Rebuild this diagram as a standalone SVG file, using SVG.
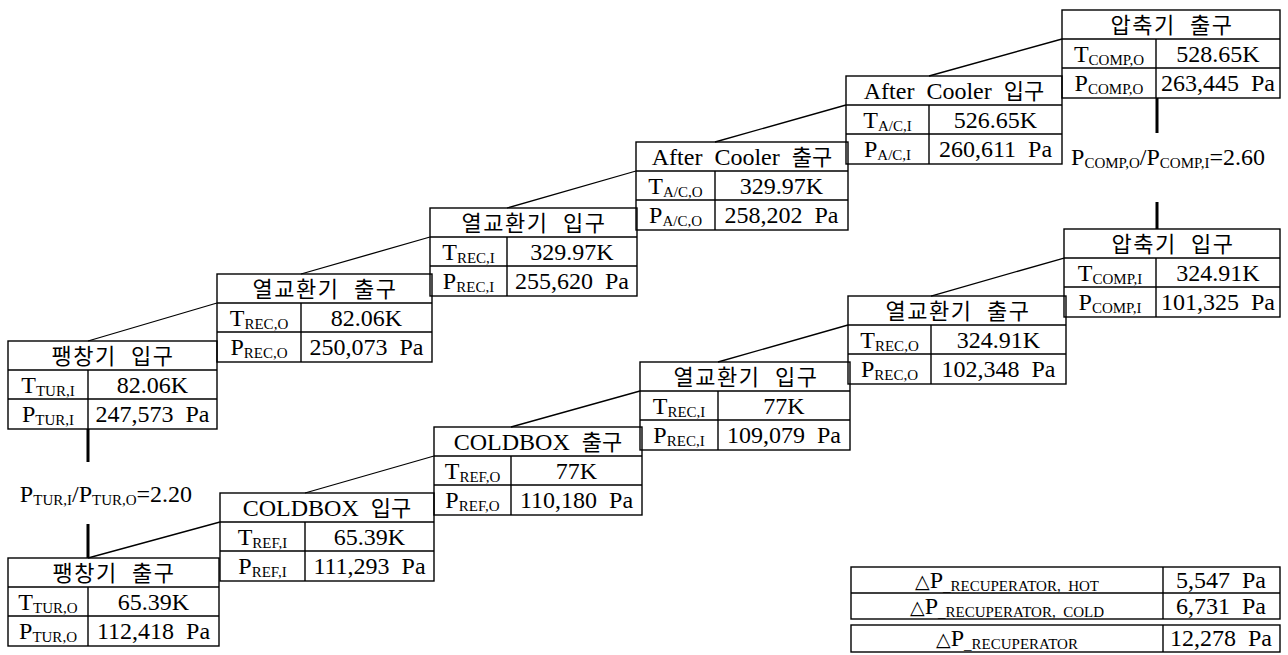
<svg xmlns="http://www.w3.org/2000/svg" width="1288" height="655" viewBox="0 0 1288 655">
<style>
.b{fill:none;stroke:#000;stroke-width:1.4}
.c{fill:none;stroke:#000;stroke-width:1.3}
.v{fill:none;stroke:#000;stroke-width:3}
text{font-family:"Liberation Serif","Times New Roman",serif;font-size:24px;fill:#000;white-space:pre;text-anchor:middle}
.k{font-family:"Noto Sans CJK KR","Liberation Serif",sans-serif;font-size:22px}
.h{letter-spacing:1.5px;word-spacing:8px}
.m{word-spacing:6px}
.s{font-size:15px}
.d{font-family:"DejaVu Sans","Noto Sans CJK KR",sans-serif;font-size:19px}
</style>
<rect width="1288" height="655" fill="#fff"/>
<g id="connectors">
<path class="c" d="M88 341L217 303M301 274L430 237M507 208L636 171M715 142L846 105M929 76L1062 39"/>
<path class="c" d="M88 558L220 522M305 493L434 456M511 427L640 391M718 362L848 325M931 296L1064 258"/>
<path class="v" d="M88 429V462M88 524V558M1157 98V133M1157 202V229"/>
</g>
<g id="ratio-tur"><text x="106" y="502">P<tspan class="s" dy="3">TUR,I</tspan><tspan dy="-3">/P</tspan><tspan class="s" dy="3">TUR,O</tspan><tspan dy="-3">=2.20</tspan></text></g>
<g id="ratio-comp"><text x="1168" y="165">P<tspan class="s" dy="3">COMP,O</tspan><tspan dy="-3">/P</tspan><tspan class="s" dy="3">COMP,I</tspan><tspan dy="-3">=2.60</tspan></text></g>

<g id="tur-in">
<rect class="b" x="8" y="341" width="209" height="88"/><path class="b" d="M8 370H217M8 399H217M88 370V429"/>
<text class="k h" x="113" y="363.5">팽창기 입구</text>
<text x="48" y="392.5">T<tspan class="s" dy="3">TUR,I</tspan></text><text x="152.5" y="392.5">82.06K</text>
<text x="48" y="422">P<tspan class="s" dy="3">TUR,I</tspan></text><text x="152.5" y="422">247,573  Pa</text>
</g>
<g id="rec-out-hot">
<rect class="b" x="217" y="274" width="215" height="88"/><path class="b" d="M217 303H432M217 332H432M301 303V362"/>
<text class="k h" x="325" y="296.5">열교환기 출구</text>
<text x="259" y="325.5">T<tspan class="s" dy="3">REC,O</tspan></text><text x="366.5" y="325.5">82.06K</text>
<text x="259" y="355">P<tspan class="s" dy="3">REC,O</tspan></text><text x="366.5" y="355">250,073  Pa</text>
</g>
<g id="rec-in-hot">
<rect class="b" x="430" y="208" width="207" height="88"/><path class="b" d="M430 237H637M430 266H637M507 237V296"/>
<text class="k h" x="534" y="230.5">열교환기 입구</text>
<text x="468.5" y="259.5">T<tspan class="s" dy="3">REC,I</tspan></text><text x="572" y="259.5">329.97K</text>
<text x="468.5" y="289">P<tspan class="s" dy="3">REC,I</tspan></text><text x="572" y="289">255,620  Pa</text>
</g>
<g id="ac-out">
<rect class="b" x="636" y="142" width="212" height="88"/><path class="b" d="M636 171H848M636 200H848M715 171V230"/>
<text class="m" x="742" y="164.5">After Cooler <tspan class="k">출구</tspan></text>
<text x="675.5" y="193.5">T<tspan class="s" dy="3">A/C,O</tspan></text><text x="781.5" y="193.5">329.97K</text>
<text x="675.5" y="223">P<tspan class="s" dy="3">A/C,O</tspan></text><text x="781.5" y="223">258,202  Pa</text>
</g>
<g id="ac-in">
<rect class="b" x="846" y="76" width="216" height="88"/><path class="b" d="M846 105H1062M846 134H1062M929 105V164"/>
<text class="m" x="954" y="98.5">After Cooler <tspan class="k">입구</tspan></text>
<text x="887.5" y="127.5">T<tspan class="s" dy="3">A/C,I</tspan></text><text x="995.5" y="127.5">526.65K</text>
<text x="887.5" y="157">P<tspan class="s" dy="3">A/C,I</tspan></text><text x="995.5" y="157">260,611  Pa</text>
</g>
<g id="comp-out">
<rect class="b" x="1062" y="10" width="218" height="88"/><path class="b" d="M1062 39H1280M1062 68H1280M1156 39V98"/>
<text class="k h" x="1172" y="32.5">압축기 출구</text>
<text x="1109" y="61.5">T<tspan class="s" dy="3">COMP,O</tspan></text><text x="1218" y="61.5">528.65K</text>
<text x="1109" y="91">P<tspan class="s" dy="3">COMP,O</tspan></text><text x="1218" y="91">263,445  Pa</text>
</g>

<g id="tur-out">
<rect class="b" x="8" y="558" width="211" height="88"/><path class="b" d="M8 587H219M8 616H219M88 587V646"/>
<text class="k h" x="114" y="580.5">팽창기 출구</text>
<text x="48" y="609.5">T<tspan class="s" dy="3">TUR,O</tspan></text><text x="153.5" y="609.5">65.39K</text>
<text x="48" y="639">P<tspan class="s" dy="3">TUR,O</tspan></text><text x="153.5" y="639">112,418  Pa</text>
</g>
<g id="coldbox-in">
<rect class="b" x="220" y="493" width="214" height="88"/><path class="b" d="M220 522H434M220 551H434M305 522V581"/>
<text class="m" x="327" y="515.5">COLDBOX <tspan class="k">입구</tspan></text>
<text x="262.5" y="544.5">T<tspan class="s" dy="3">REF,I</tspan></text><text x="369.5" y="544.5">65.39K</text>
<text x="262.5" y="574">P<tspan class="s" dy="3">REF,I</tspan></text><text x="369.5" y="574">111,293  Pa</text>
</g>
<g id="coldbox-out">
<rect class="b" x="434" y="427" width="208" height="88"/><path class="b" d="M434 456H642M434 485H642M511 456V515"/>
<text class="m" x="538" y="449.5">COLDBOX <tspan class="k">출구</tspan></text>
<text x="472.5" y="478.5">T<tspan class="s" dy="3">REF,O</tspan></text><text x="576.5" y="478.5">77K</text>
<text x="472.5" y="508">P<tspan class="s" dy="3">REF,O</tspan></text><text x="576.5" y="508">110,180  Pa</text>
</g>
<g id="rec-in-cold">
<rect class="b" x="640" y="362" width="210" height="88"/><path class="b" d="M640 391H850M640 420H850M718 391V450"/>
<text class="k h" x="746" y="384.5">열교환기 입구</text>
<text x="679" y="413.5">T<tspan class="s" dy="3">REC,I</tspan></text><text x="784" y="413.5">77K</text>
<text x="679" y="443">P<tspan class="s" dy="3">REC,I</tspan></text><text x="784" y="443">109,079  Pa</text>
</g>
<g id="rec-out-cold">
<rect class="b" x="848" y="296" width="218" height="88"/><path class="b" d="M848 325H1066M848 354H1066M931 325V384"/>
<text class="k h" x="958" y="318.5">열교환기 출구</text>
<text x="889.5" y="347.5">T<tspan class="s" dy="3">REC,O</tspan></text><text x="998.5" y="347.5">324.91K</text>
<text x="889.5" y="377">P<tspan class="s" dy="3">REC,O</tspan></text><text x="998.5" y="377">102,348  Pa</text>
</g>
<g id="comp-in">
<rect class="b" x="1064" y="229" width="216" height="88"/><path class="b" d="M1064 258H1280M1064 287H1280M1156 258V317"/>
<text class="k h" x="1173" y="251.5">압축기 입구</text>
<text x="1110" y="280.5">T<tspan class="s" dy="3">COMP,I</tspan></text><text x="1218" y="280.5">324.91K</text>
<text x="1110" y="310">P<tspan class="s" dy="3">COMP,I</tspan></text><text x="1218" y="310">101,325  Pa</text>
</g>

<g id="dp-hot-cold">
<rect class="b" x="851" y="567" width="429" height="52"/><path class="b" d="M851 593H1280M1163 567V619"/>
<text x="1007" y="588"><tspan class="d">△</tspan>P<tspan class="s" dy="3">_RECUPERATOR,  HOT</tspan></text><text x="1221" y="588">5,547  Pa</text>
<text x="1007" y="614"><tspan class="d">△</tspan>P<tspan class="s" dy="3">_RECUPERATOR,  COLD</tspan></text><text x="1221" y="614">6,731  Pa</text>
</g>
<g id="dp-total">
<rect class="b" x="851" y="625" width="429" height="27"/><path class="b" d="M1163 625V652"/>
<text x="1007" y="646"><tspan class="d">△</tspan>P<tspan class="s" dy="3">_RECUPERATOR</tspan></text><text x="1221" y="646">12,278  Pa</text>
</g>
</svg>
